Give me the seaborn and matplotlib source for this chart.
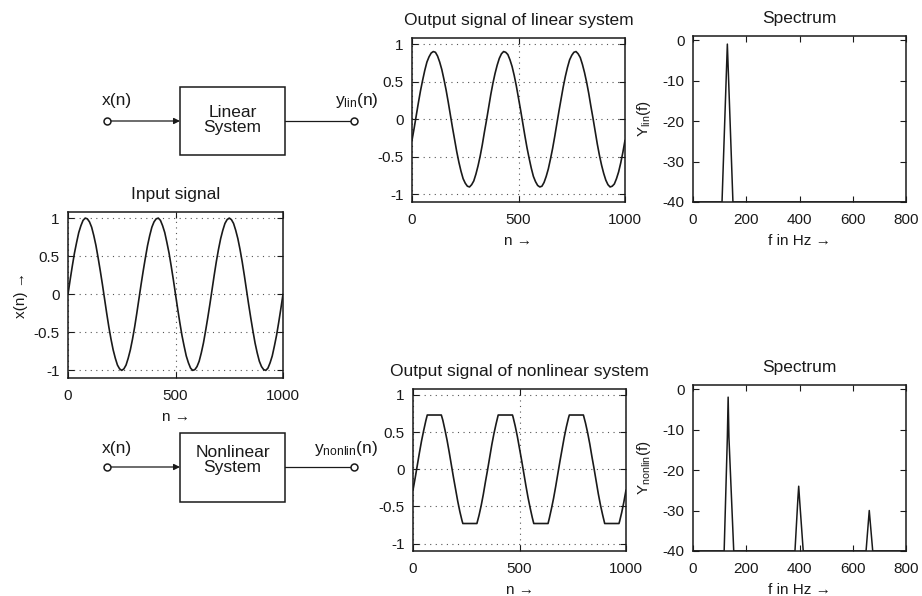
import matplotlib
matplotlib.use("Agg")
import matplotlib.pyplot as plt
import seaborn as sns
import pandas as pd

# ---------------------------------------------------------------- data
# sample index for the sinusoidal signals
n_samples = list(range(0, 1001, 10))

input_signal = [
    0.00, 0.19, 0.37, 0.54, 0.68, 0.81, 0.90, 0.97, 1.00, 0.99,
    0.95, 0.88, 0.77, 0.64, 0.48, 0.31, 0.13, -0.06, -0.25, -0.43,
    -0.59, -0.73, -0.84, -0.93, -0.98, -1.00, -0.98, -0.93, -0.84, -0.73,
    -0.59, -0.43, -0.25, -0.06, 0.13, 0.31, 0.48, 0.64, 0.77, 0.88,
    0.95, 0.99, 1.00, 0.97, 0.90, 0.81, 0.68, 0.54, 0.37, 0.19,
    0.00, -0.19, -0.37, -0.54, -0.68, -0.81, -0.90, -0.97, -1.00, -0.99,
    -0.95, -0.88, -0.77, -0.64, -0.48, -0.31, -0.13, 0.06, 0.25, 0.43,
    0.59, 0.73, 0.84, 0.93, 0.98, 1.00, 0.98, 0.93, 0.84, 0.73,
    0.59, 0.43, 0.25, 0.06, -0.13, -0.31, -0.48, -0.64, -0.77, -0.88,
    -0.95, -0.99, -1.00, -0.97, -0.90, -0.81, -0.68, -0.54, -0.37, -0.19,
    0.00,
]

linear_output = [
    -0.28, -0.12, 0.05, 0.22, 0.38, 0.52, 0.65, 0.76, 0.83, 0.88,
    0.90, 0.89, 0.84, 0.76, 0.66, 0.53, 0.39, 0.23, 0.06, -0.11,
    -0.27, -0.43, -0.57, -0.69, -0.79, -0.85, -0.89, -0.90, -0.87, -0.82,
    -0.73, -0.62, -0.49, -0.34, -0.17, -0.01, 0.16, 0.33, 0.48, 0.61,
    0.72, 0.81, 0.87, 0.90, 0.89, 0.86, 0.79, 0.70, 0.58, 0.44,
    0.28, 0.12, -0.05, -0.22, -0.38, -0.52, -0.65, -0.76, -0.83, -0.88,
    -0.90, -0.89, -0.84, -0.76, -0.66, -0.53, -0.39, -0.23, -0.06, 0.11,
    0.27, 0.43, 0.57, 0.69, 0.79, 0.85, 0.89, 0.90, 0.87, 0.82,
    0.73, 0.62, 0.49, 0.34, 0.17, 0.01, -0.16, -0.33, -0.48, -0.61,
    -0.72, -0.81, -0.87, -0.90, -0.89, -0.86, -0.79, -0.70, -0.58, -0.44,
    -0.28,
]

# clipped (nonlinear) output, given at its sample and corner points
n_nonlin = [
    0, 10, 20, 30, 40, 50, 60, 67, 133, 140, 150, 160, 170, 180, 190, 200,
    210, 220, 230, 234, 300, 310, 320, 330, 340, 350, 360, 370, 380, 390,
    400, 467, 470, 480, 490, 500, 510, 520, 530, 540, 550, 560, 567, 634,
    640, 650, 660, 670, 680, 690, 700, 710, 720, 730, 734, 800, 810, 820,
    830, 840, 850, 860, 870, 880, 890, 900, 967, 970, 980, 990, 1000,
]
nonlinear_output = [
    -0.28, -0.12, 0.05, 0.22, 0.38, 0.52, 0.65, 0.73, 0.73, 0.66, 0.53,
    0.39, 0.23, 0.06, -0.11, -0.27, -0.43, -0.57, -0.69, -0.73, -0.73,
    -0.62, -0.49, -0.34, -0.17, -0.01, 0.16, 0.33, 0.48, 0.61, 0.73,
    0.73, 0.70, 0.58, 0.44, 0.28, 0.12, -0.05, -0.22, -0.38, -0.52,
    -0.65, -0.73, -0.73, -0.66, -0.53, -0.39, -0.23, -0.06, 0.11, 0.27,
    0.43, 0.57, 0.69, 0.73, 0.73, 0.62, 0.49, 0.34, 0.17, 0.01, -0.16,
    -0.33, -0.48, -0.61, -0.73, -0.73, -0.70, -0.58, -0.44, -0.28,
]

# magnitude spectra in dB
f_lin = [0, 109, 129, 150, 800]
Y_lin = [-40, -40, -1, -40, -40]

f_nonlin = [0, 117, 129, 132, 135, 153, 383, 394, 397, 400, 414, 650, 662, 675, 800]
Y_nonlin = [-40, -40, -12, -2, -12, -40, -40, -27, -24, -27, -40, -40, -30, -40, -40]

# axis ticks and their labels
sig_xticks = [0, 500, 1000]
sig_xticklabels = ["0", "500", "1000"]
sig_yticks = [-1, -0.5, 0, 0.5, 1]
sig_yticklabels = ["-1", "-0.5", "0", "0.5", "1"]
spec_xticks = [0, 200, 400, 600, 800]
spec_xticklabels = ["0", "200", "400", "600", "800"]
spec_yticks = [-40, -30, -20, -10, 0]
spec_yticklabels = ["-40", "-30", "-20", "-10", "0"]

# ---------------------------------------------------------------- style
sns.set_theme(style="ticks")
plt.rcParams["font.family"] = ["Liberation Sans", "DejaVu Sans"]
plt.rcParams["mathtext.fontset"] = "custom"
plt.rcParams["mathtext.rm"] = "Liberation Sans"
plt.rcParams["mathtext.it"] = "Liberation Sans"
plt.rcParams["mathtext.default"] = "regular"
plt.rcParams["axes.unicode_minus"] = False

INK = "#1a1a1a"
W, H = 922, 596
fig = plt.figure(figsize=(W / 100, H / 100), dpi=100)
fig.patch.set_facecolor("white")


def px_box(left, top, right, bottom):
    return [left / W, 1 - bottom / H, (right - left) / W, (bottom - top) / H]


def dress(ax, xticks, xlabels, yticks, ylabels, xlim, ylim, grid):
    ax.set_xlim(xlim)
    ax.set_ylim(ylim)
    ax.set_xticks(xticks)
    ax.set_xticklabels(xlabels)
    ax.set_yticks(yticks)
    ax.set_yticklabels(ylabels)
    ax.tick_params(direction="in", top=True, right=True, length=4, width=0.8,
                   labelsize=11, pad=6, colors=INK)
    ax.tick_params(axis="x", pad=8)
    for sp in ax.spines.values():
        sp.set_linewidth(1.1)
        sp.set_color(INK)
    if grid:
        ax.grid(True, linestyle=(0, (1, 4)), color="#555555", linewidth=0.8)
    else:
        ax.grid(False)


def signal_panel(box, x, y, title, ylabel=None):
    ax = fig.add_axes(px_box(*box))
    df = pd.DataFrame({"n": x, "v": y})
    sns.lineplot(data=df, x="n", y="v", ax=ax, color=INK, linewidth=1.2,
                 estimator=None, sort=False)
    dress(ax, sig_xticks, sig_xticklabels, sig_yticks, sig_yticklabels,
          (0, 1000), (-1.1, 1.08), True)
    ax.set_title(title, fontsize=12.5, color=INK, pad=9.5)
    ax.set_xlabel("n \u2192", fontsize=11, color=INK, labelpad=5)
    ax.set_ylabel(ylabel if ylabel else "", fontsize=11, color=INK)
    return ax


def spectrum_panel(box, f, Y, ylabel):
    ax = fig.add_axes(px_box(*box))
    df = pd.DataFrame({"f": f, "Y": Y})
    sns.lineplot(data=df, x="f", y="Y", ax=ax, color=INK, linewidth=1.1,
                 estimator=None, sort=False)
    dress(ax, spec_xticks, spec_xticklabels, spec_yticks, spec_yticklabels,
          (0, 800), (-40, 1.0), False)
    ax.set_title("Spectrum", fontsize=12.5, color=INK, pad=9.5)
    ax.set_xlabel("f in Hz \u2192", fontsize=11, color=INK, labelpad=5)
    ax.set_ylabel(ylabel, fontsize=11, color=INK, labelpad=7)
    return ax


# ---------------------------------------------------------------- block diagrams
diag = fig.add_axes([0, 0, 1, 1])
diag.set_xlim(0, W)
diag.set_ylim(H, 0)
diag.set_axis_off()


def block(top, bottom, line_y, text, text_y, in_y, out_label, out_x, out_y):
    left, right = 180, 285
    diag.add_patch(plt.Rectangle((left, top), right - left, bottom - top,
                                 fill=False, ec=INK, lw=1.1))
    diag.annotate("", xy=(left, line_y), xytext=(107, line_y),
                  arrowprops=dict(arrowstyle="-|>", color=INK, lw=0.9,
                                  mutation_scale=9, shrinkA=3, shrinkB=0))
    diag.plot([right, 354], [line_y, line_y], color=INK, lw=0.9)
    for cx in (107, 354):
        diag.plot(cx, line_y, marker="o", ms=5, mfc="white", mec=INK, mew=1.1)
    diag.text((left + right) / 2, text_y, text, ha="center", va="center",
              fontsize=12.5, color=INK, linespacing=1.0)
    diag.text(117, in_y, "x(n)", ha="center", va="center", fontsize=12.5, color=INK)
    diag.text(out_x, out_y, out_label, ha="center", va="center", fontsize=12.5,
              color=INK)


block(87, 155, 121, "Linear\nSystem", 120, 101, r"$y_{lin}(n)$", 357, 101)
block(433, 502, 467, "Nonlinear\nSystem", 460, 449, r"$y_{nonlin}(n)$", 346, 448)

# ---------------------------------------------------------------- panels
signal_panel((68, 212, 283, 378), n_samples, input_signal, "Input signal",
             "x(n) \u2192")
signal_panel((412, 38, 625, 202), n_samples, linear_output,
             "Output signal of linear system")
signal_panel((413, 389, 626, 551), n_nonlin, nonlinear_output,
             "Output signal of nonlinear system")
spectrum_panel((693, 36, 906, 202), f_lin, Y_lin, r"$Y_{lin}(f)$")
spectrum_panel((693, 385, 906, 551), f_nonlin, Y_nonlin, r"$Y_{nonlin}(f)$")

fig.savefig("out.png", dpi=100, facecolor="white")
